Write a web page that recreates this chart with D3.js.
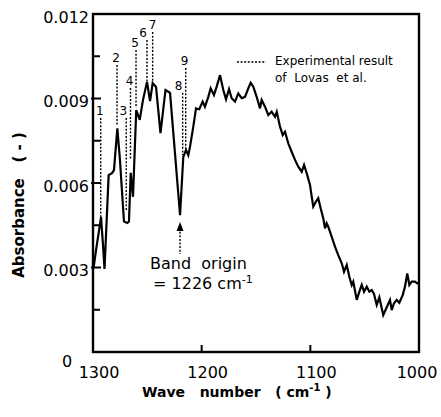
<!DOCTYPE html>
<html>
  <head>
    <meta charset="utf-8" />
    <script src="https://d3js.org/d3.v7.min.js"></script>
    <style>
      body { margin: 0; background: #fff; }
      text { font-family: "DejaVu Sans", sans-serif; fill: #000; }
    </style>
  </head>
  <body>
    <div id="chart"></div>
    <script>
      // absorbance spectrum, [wave number (cm-1), absorbance]
      const spectrum = [
        [1299.5, 0.00298], [1297.2, 0.00362], [1292.6, 0.00479], [1290.8, 0.0038], [1289.4, 0.00295],
        [1285.6, 0.00628], [1282.5, 0.00635], [1280.7, 0.00646], [1277.6, 0.00794], [1275.2, 0.00682],
        [1271.5, 0.00463], [1268.4, 0.00458], [1266.9, 0.00463], [1265.3, 0.00636], [1263.2, 0.00551],
        [1260.2, 0.00859], [1257.0, 0.00824], [1254.0, 0.00895], [1250.3, 0.00959], [1247.5, 0.00891],
        [1245.1, 0.00955], [1242.0, 0.00941], [1237.9, 0.00777], [1233.3, 0.0093], [1230.7, 0.00924],
        [1229.1, 0.0092], [1219.9, 0.00486], [1216.9, 0.00693], [1214.4, 0.00717], [1212.3, 0.00699],
        [1210.7, 0.00729], [1207.7, 0.008], [1205.2, 0.00865], [1202.2, 0.00862], [1199.1, 0.00889],
        [1197.0, 0.00871], [1193.9, 0.00906], [1191.7, 0.00936], [1188.7, 0.00912], [1186.2, 0.00942],
        [1183.1, 0.00983], [1180.1, 0.0093], [1177.6, 0.00897], [1174.8, 0.00933], [1172.4, 0.00901],
        [1169.3, 0.00889], [1166.3, 0.00918], [1163.2, 0.00901], [1160.1, 0.00906], [1157.1, 0.00936],
        [1154.9, 0.00956], [1152.5, 0.00942], [1149.4, 0.00906], [1146.3, 0.00865], [1144.8, 0.00895],
        [1141.7, 0.00871], [1138.7, 0.00841], [1135.6, 0.00853], [1132.5, 0.00835], [1130.9, 0.00853],
        [1127.9, 0.008], [1125.4, 0.0077], [1123.3, 0.00782], [1120.3, 0.00741], [1117.2, 0.00711],
        [1114.1, 0.00682], [1111.1, 0.00658], [1107.9, 0.0064], [1105.8, 0.00664], [1103.3, 0.00634],
        [1100.3, 0.00593], [1098.7, 0.00551], [1097.3, 0.00516], [1094.8, 0.00534], [1092.7, 0.00546],
        [1090.5, 0.0051], [1088.1, 0.00475], [1086.5, 0.00439], [1085.0, 0.00457], [1083.5, 0.00445],
        [1080.3, 0.00409], [1077.3, 0.00374], [1074.3, 0.00344], [1071.1, 0.00315], [1069.0, 0.00285],
        [1066.5, 0.00309], [1064.1, 0.00267], [1061.9, 0.00238], [1060.5, 0.0025], [1057.3, 0.00185],
        [1054.9, 0.00214], [1052.7, 0.00238], [1050.6, 0.00214], [1048.1, 0.00232], [1045.7, 0.00214],
        [1043.5, 0.0022], [1041.4, 0.00206], [1038.9, 0.00167], [1036.5, 0.00194], [1034.3, 0.00155],
        [1032.9, 0.00131], [1029.7, 0.00159], [1026.7, 0.00185], [1025.1, 0.00149], [1023.0, 0.00173],
        [1020.5, 0.00185], [1018.1, 0.00175], [1015.0, 0.00202], [1012.9, 0.00232], [1010.8, 0.00279],
        [1008.9, 0.00238], [1006.7, 0.0025], [1003.7, 0.0025], [1001.6, 0.00244], [1000.0, 0.00245],
      ];

      // experimental lines of Lovas et al. (dotted)
      const lovasLabels = ["1", "2", "3", "4", "5", "6", "7", "8", "9"];
      const lovasWave = [1292.9, 1277.9, 1269.4, 1265.5, 1260.4, 1250.3, 1245.1, 1217.5, 1214.7];
      const lovasTop = [0.00831, 0.01019, 0.00831, 0.00937, 0.01072, 0.01108, 0.01136, 0.0092, 0.01008];
      const lovasBottom = [0.00469, 0.00806, 0.00504, 0.00682, 0.00866, 0.00959, 0.00959, 0.00699, 0.00717];

      const xTicks = [1300, 1200, 1100, 1000];
      const yTicks = [0, 0.003, 0.006, 0.009, 0.012];
      const yMinorTicks = [0.0015, 0.0045, 0.0075, 0.0105];

      const W = 441, H = 417;
      const margin = { top: 14, right: 22, bottom: 65, left: 93 };
      const width = W - margin.left - margin.right;
      const height = H - margin.top - margin.bottom;

      const svg = d3.select("#chart").append("svg").attr("width", W).attr("height", H);
      const g = svg.append("g").attr("transform", `translate(${margin.left},${margin.top})`);

      const x = d3.scaleLinear().domain([1300, 1000]).range([0, width]);
      const y = d3.scaleLinear().domain([0, 0.012]).range([height, 0]);

      // frame
      g.append("rect")
        .attr("width", width)
        .attr("height", height)
        .attr("fill", "none")
        .attr("stroke", "#000")
        .attr("stroke-width", 2.4);

      // y ticks (inward)
      g.selectAll(".ytick")
        .data(yTicks.slice(1, -1))
        .enter()
        .append("line")
        .attr("x1", -2)
        .attr("x2", 8)
        .attr("y1", (d) => y(d))
        .attr("y2", (d) => y(d))
        .attr("stroke", "#000")
        .attr("stroke-width", 2);
      g.selectAll(".yminor")
        .data(yMinorTicks)
        .enter()
        .append("line")
        .attr("x1", 0)
        .attr("x2", 7)
        .attr("y1", (d) => y(d))
        .attr("y2", (d) => y(d))
        .attr("stroke", "#000")
        .attr("stroke-width", 2);
      g.selectAll(".ylab")
        .data(yTicks)
        .enter()
        .append("text")
        .attr("x", (d) => (d === 0 ? -26 : -4))
        .attr("y", (d) => y(d) + (d === 0 ? 9 : 3))
        .attr("dy", "0.35em")
        .attr("text-anchor", (d) => (d === 0 ? "middle" : "end"))
        .style("font-size", "16px")
        .text((d) => (d === 0 ? "0" : d3.format(".3f")(d)));

      // x ticks
      g.selectAll(".xtick")
        .data(xTicks.slice(1, -1))
        .enter()
        .append("line")
        .attr("x1", (d) => x(d))
        .attr("x2", (d) => x(d))
        .attr("y1", height)
        .attr("y2", height - 7)
        .attr("stroke", "#000")
        .attr("stroke-width", 2);
      g.selectAll(".xlab")
        .data(xTicks)
        .enter()
        .append("text")
        .attr("x", (d) => Math.min(x(d) + 6, width - 2))
        .attr("y", height + 26)
        .attr("text-anchor", "middle")
        .style("font-size", "16px")
        .text((d) => d);

      // axis titles
      const xt = svg.append("text")
        .attr("x", 142)
        .attr("y", 397)
        .style("font-size", "14px")
        .style("font-weight", "bold")
        .style("white-space", "pre");
      xt.append("tspan").text("Wave   number   ( cm");
      xt.append("tspan").attr("dy", -6).style("font-size", "10px").text("-1");
      xt.append("tspan").attr("dy", 6).text(" )");

      svg.append("text")
        .attr("transform", "translate(24,205) rotate(-90)")
        .attr("text-anchor", "middle")
        .style("font-size", "15px")
        .style("font-weight", "bold")
        .style("white-space", "pre")
        .text("Absorbance   ( - )");

      // Lovas et al. dotted lines; a few labels sit slightly off their line
      const nudge = { "3": -2, "6": -3, "7": 1, "8": -3 };
      lovasLabels.forEach((lab, i) => {
        g.append("line")
          .attr("x1", x(lovasWave[i]))
          .attr("x2", x(lovasWave[i]))
          .attr("y1", y(lovasTop[i]))
          .attr("y2", y(lovasBottom[i]))
          .attr("stroke", "#000")
          .attr("stroke-width", 1.4)
          .attr("stroke-dasharray", "2,1.6");
        g.append("text")
          .attr("x", x(lovasWave[i]) - 1 + (nudge[lab] || 0))
          .attr("y", y(lovasTop[i]) - 3)
          .attr("text-anchor", "middle")
          .style("font-size", "12px")
          .text(lab);
      });

      // spectrum
      const line = d3
        .line()
        .x((d) => x(d[0]))
        .y((d) => y(d[1]));
      g.append("path")
        .datum(spectrum)
        .attr("d", line)
        .attr("fill", "none")
        .attr("stroke", "#000")
        .attr("stroke-width", 2.2)
        .attr("stroke-linejoin", "miter");

      // legend
      g.append("line")
        .attr("x1", 144)
        .attr("x2", 173)
        .attr("y1", 48)
        .attr("y2", 48)
        .attr("stroke", "#000")
        .attr("stroke-width", 1.4)
        .attr("stroke-dasharray", "2,1.6");
      g.append("text").attr("x", 182).attr("y", 51).style("font-size", "12px").text("Experimental result");
      g.append("text").attr("x", 182).attr("y", 68).style("font-size", "12px").style("white-space", "pre").text("of  Lovas  et al.");

      // band origin arrow at the spectrum minimum
      const origin = spectrum.slice(20, 40).reduce((a, b) => (b[1] < a[1] ? b : a));
      const ax = x(origin[0]);
      const ay = y(origin[1]) + 7;
      g.append("line")
        .attr("x1", ax)
        .attr("x2", ax)
        .attr("y1", ay + 6)
        .attr("y2", ay + 32)
        .attr("stroke", "#000")
        .attr("stroke-width", 1.4)
        .attr("stroke-dasharray", "2,1.6");
      g.append("path")
        .attr("d", `M${ax},${ay} L${ax - 3.5},${ay + 9} L${ax + 3.5},${ay + 9} Z`)
        .attr("fill", "#000");
      g.append("text")
        .attr("x", ax - 30)
        .attr("y", ay + 47)
        .style("font-size", "16px")
        .style("white-space", "pre")
        .text("Band  origin");
      const bt = g.append("text")
        .attr("x", ax - 27)
        .attr("y", ay + 67)
        .style("font-size", "16px")
        .style("white-space", "pre");
      bt.append("tspan").text("= 1226 cm");
      bt.append("tspan").attr("dy", -6).style("font-size", "11px").text("-1");
    </script>
  </body>
</html>
